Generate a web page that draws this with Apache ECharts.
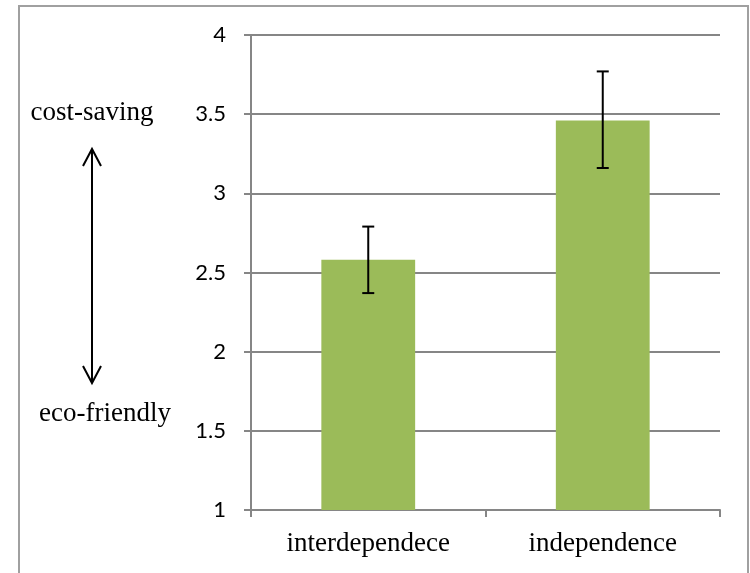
<!DOCTYPE html>
<html>
<head>
<meta charset="utf-8">
<script src="https://cdn.jsdelivr.net/npm/echarts@6/dist/echarts.min.js"></script>
<style>
  html, body { margin: 0; padding: 0; background: #fff; }
  #chart { width: 750px; height: 573px; }
</style>
</head>
<body>
<div id="chart"></div>
<script>
const categories = ['interdependece', 'independence']
const means = [2.58, 3.46]
const errLow = [2.37, 3.16]
const errHigh = [2.79, 3.77]
const yTicks = [1, 1.5, 2, 2.5, 3, 3.5, 4]

const chart = echarts.init(document.getElementById('chart'))

chart.setOption({
  animation: false,
  grid: { left: 251, right: 30, top: 35, bottom: 63 },
  xAxis: {
    type: 'category',
    data: categories,
    axisLine: { lineStyle: { color: '#868686', width: 2 } },
    axisTick: { show: true, length: 7, lineStyle: { color: '#868686', width: 2 } },
    axisLabel: {
      margin: 20,
      color: '#000',
      fontFamily: 'Liberation Serif',
      fontSize: 27
    }
  },
  yAxis: {
    type: 'value',
    min: yTicks[0],
    max: yTicks[yTicks.length - 1],
    interval: 0.5,
    axisLine: { show: true, lineStyle: { color: '#868686', width: 2 } },
    axisTick: { show: true, length: 7, lineStyle: { color: '#868686', width: 2 } },
    splitLine: { lineStyle: { color: '#868686', width: 2 } },
    axisLabel: {
      margin: 25,
      color: '#000',
      fontFamily: 'Lato',
      fontSize: 22
    }
  },
  series: [
    {
      type: 'bar',
      data: means,
      barWidth: '40%',
      itemStyle: { color: '#9bbb59' }
    },
    {
      type: 'custom',
      z: 5,
      data: categories.map((c, i) => [i, errLow[i], errHigh[i]]),
      renderItem: (params, api) => {
        const lo = api.coord([api.value(0), api.value(1)])
        const hi = api.coord([api.value(0), api.value(2)])
        const cap = 6
        const style = { stroke: '#000', lineWidth: 2 }
        return {
          type: 'group',
          children: [
            { type: 'line', shape: { x1: hi[0], y1: hi[1], x2: lo[0], y2: lo[1] }, style },
            { type: 'line', shape: { x1: hi[0] - cap, y1: hi[1], x2: hi[0] + cap, y2: hi[1] }, style },
            { type: 'line', shape: { x1: lo[0] - cap, y1: lo[1], x2: lo[0] + cap, y2: lo[1] }, style }
          ]
        }
      }
    }
  ],
  graphic: [
    {
      type: 'rect',
      shape: { x: 19, y: 6, width: 729, height: 600 },
      style: { fill: null, stroke: '#a0a0a0', lineWidth: 2 }
    },
    {
      type: 'text',
      x: 92, y: 113,
      style: {
        text: 'cost-saving',
        font: '27px "Liberation Serif"',
        fill: '#000',
        align: 'center',
        verticalAlign: 'middle'
      }
    },
    {
      type: 'text',
      x: 105, y: 414,
      style: {
        text: 'eco-friendly',
        font: '27px "Liberation Serif"',
        fill: '#000',
        align: 'center',
        verticalAlign: 'middle'
      }
    },
    {
      type: 'group',
      children: [
        { type: 'line', shape: { x1: 92, y1: 149, x2: 92, y2: 383 }, style: { stroke: '#000', lineWidth: 2 } },
        { type: 'polyline', shape: { points: [[83, 166], [92, 149], [101, 166]] }, style: { stroke: '#000', lineWidth: 2, fill: null } },
        { type: 'polyline', shape: { points: [[83, 366], [92, 383], [101, 366]] }, style: { stroke: '#000', lineWidth: 2, fill: null } }
      ]
    }
  ]
})
</script>
</body>
</html>
